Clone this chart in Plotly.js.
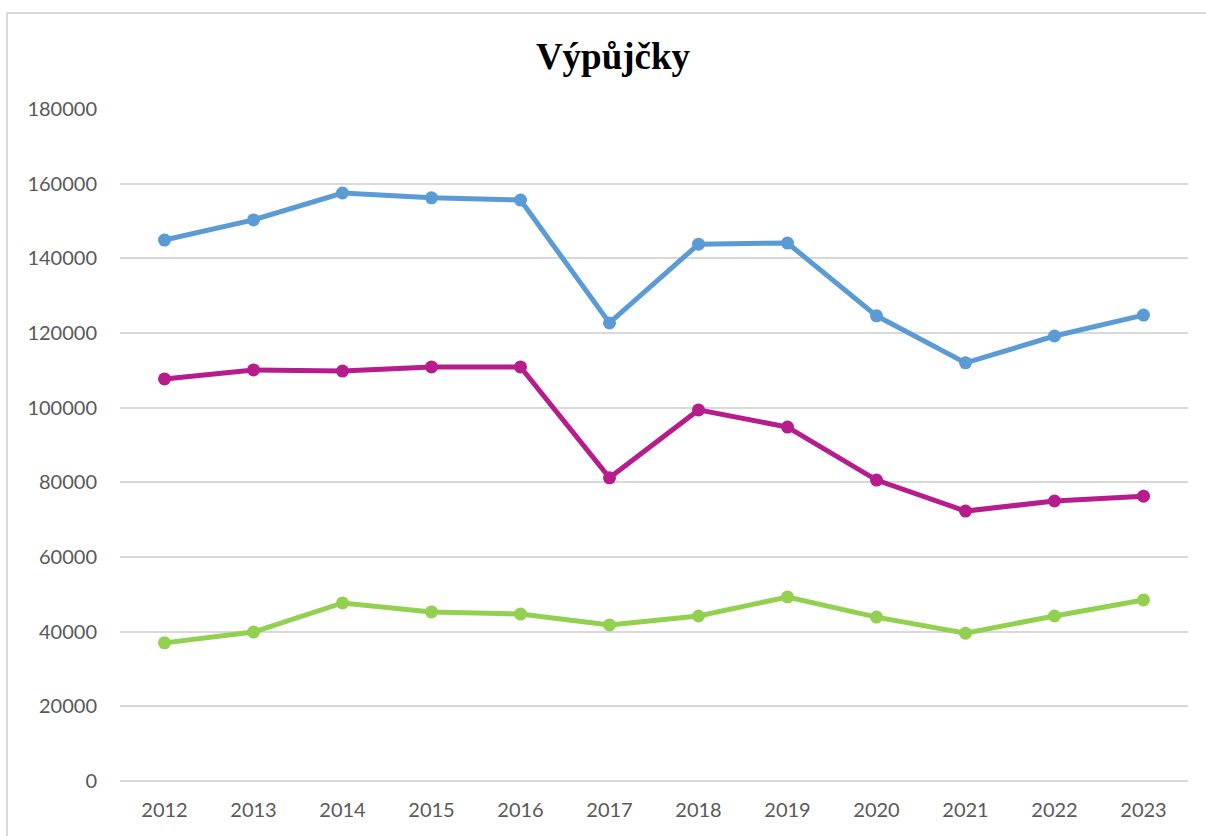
<!DOCTYPE html>
<html>
<head>
<meta charset="utf-8">
<script src="https://cdn.plot.ly/plotly-3.0.1.min.js"></script>
<style>
  html, body { margin: 0; padding: 0; background: #fff; }
  #chart { width: 1206px; height: 836px; }
  #frame { position: absolute; left: 6px; top: 12px; width: 1300px; height: 900px;
           border-left: 2px solid #D9D9D9; border-top: 2px solid #D9D9D9; pointer-events: none; }
</style>
</head>
<body>
<div id="chart"></div>
<div id="frame"></div>
<script>
const years = ['2012','2013','2014','2015','2016','2017','2018','2019','2020','2021','2022','2023'];
const seriesBlue = [144900, 150300, 157500, 156200, 155600, 122700, 143800, 144100, 124600, 112000, 119200, 124800];
const seriesMagenta = [107700, 110100, 109800, 110900, 110900, 81200, 99400, 94800, 80600, 72300, 75000, 76300];
const seriesGreen = [37000, 39900, 47700, 45300, 44700, 41800, 44200, 49300, 43900, 39600, 44200, 48500];
const yTicks = [0, 20000, 40000, 60000, 80000, 100000, 120000, 140000, 160000, 180000];

function trace(y, color) {
  return {
    x: years, y: y, type: 'scatter', mode: 'lines+markers',
    line: { color: color, width: 5 },
    marker: { color: color, size: 13 },
    hoverinfo: 'x+y', showlegend: false
  };
}

const data = [
  trace(seriesBlue, '#5B9BD5'),
  trace(seriesMagenta, '#B71C8C'),
  trace(seriesGreen, '#92D050')
];

const layout = {
  width: 1206, height: 836,
  margin: { l: 120, r: 18, t: 109, b: 55 },
  paper_bgcolor: '#ffffff', plot_bgcolor: '#ffffff',
  title: {
    text: '<b>Výpůjčky</b>',
    font: { family: 'Liberation Serif, Times New Roman, serif', size: 37, color: '#000000' },
    x: 613/1206, xanchor: 'center', y: 1 - 56/836, yanchor: 'middle', yref: 'container'
  },
  xaxis: {
    type: 'category', range: [-0.5, 11.5],
    showgrid: false, zeroline: false, showline: false,
    ticks: '', ticklabelstandoff: 15,
    tickfont: { family: 'Lato, Noto Sans, sans-serif', size: 20, color: '#595959' }
  },
  yaxis: {
    range: [0, 180000], tickvals: yTicks, ticktext: yTicks.map(String),
    showgrid: true, gridcolor: '#D9D9D9', gridwidth: 1.5,
    zeroline: true, zerolinecolor: '#D9D9D9', zerolinewidth: 1.5,
    showline: false, ticks: '', ticklabelstandoff: 22,
    tickfont: { family: 'Lato, Noto Sans, sans-serif', size: 20, color: '#595959' }
  }
};

Plotly.newPlot('chart', data, layout, { displayModeBar: false, responsive: false });
</script>
</body>
</html>
